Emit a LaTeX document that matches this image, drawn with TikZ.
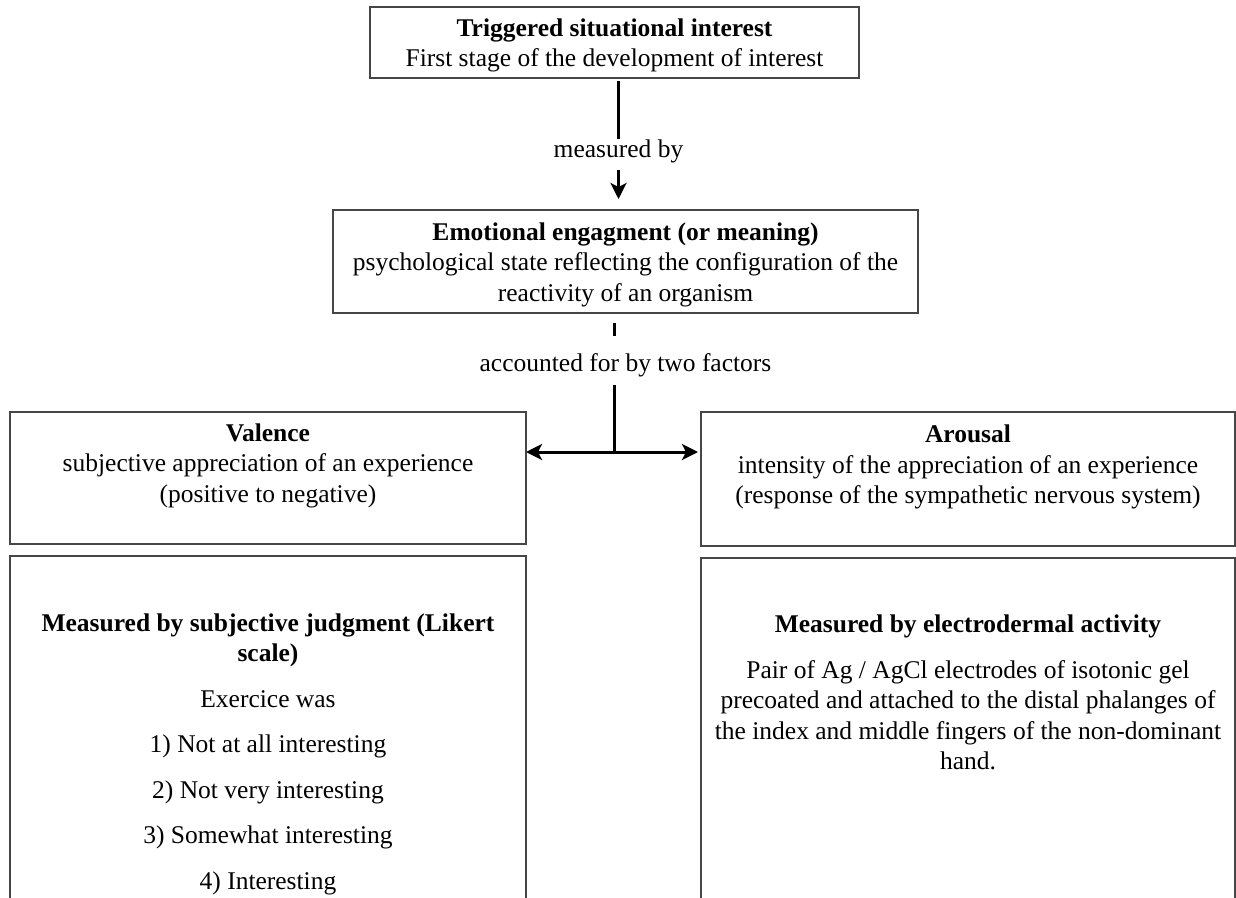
\documentclass[tikz,border=0pt]{standalone}
\usepackage{fontspec}
\setmainfont{Liberation Serif}
\usetikzlibrary{arrows.meta}
\definecolor{boxgray}{RGB}{70,70,70}
\begin{document}
\begin{tikzpicture}[x=1pt,y=-1pt,
  box/.style={draw=boxgray, line width=1.5pt, inner sep=0pt, outer sep=0pt},
  txt/.style={font=\fontsize{25.5}{30.5}\selectfont, align=center, inner sep=0pt, anchor=north},
  lbl/.style={font=\fontsize{25.5}{30.5}\selectfont, inner sep=0pt, anchor=base},
  conn/.style={line width=3pt, draw=black},
  tip/.style={-{Stealth[length=16pt,width=16pt,inset=4pt]}}]
\useasboundingbox (0,0) rectangle (1236,897);
\fill[white] (0,0) rectangle (1236,897);
\clip (0,0) rectangle (1236,897);

% boxes
\node[box, minimum width=489pt, minimum height=71pt] (top) at (614.5,42.5) {};
\node[box, minimum width=585pt, minimum height=103pt] (emo) at (625.5,261.5) {};
\node[box, minimum width=516pt, minimum height=132pt] (val) at (268,478) {};
\node[box, minimum width=534pt, minimum height=134pt] (aro) at (968,479) {};
\node[box, minimum width=516pt, minimum height=374pt] (valm) at (268,743) {};
\node[box, minimum width=534pt, minimum height=372pt] (arom) at (968,744) {};

% texts
\node[txt] (toptxt) at (614.5,18.2) {\textbf{Triggered situational interest}\\First stage of the development of interest};
\node[txt] (emotxt) at (625.5,222.2) {\textbf{Emotional engagment (or meaning)}\\psychological state reflecting the configuration of the\\reactivity of an organism};
\node[txt] (valtxt) at (268,423.2) {\textbf{Valence}\\subjective appreciation of an experience\\(positive to negative)};
\node[txt] (arotxt) at (968,425) {\textbf{Arousal}\\intensity of the appreciation of an experience\\(response of the sympathetic nervous system)};
\node[txt] (valmtxt) at (268,613.2) {\textbf{Measured by subjective judgment (Likert}\\\textbf{scale)}\\[15pt]Exercice was\\[15pt]1) Not at all interesting\\[15pt]2) Not very interesting\\[15pt]3) Somewhat interesting\\[15pt]4) Interesting};
\node[txt] (aromtxt) at (968,614.2) {\textbf{Measured by electrodermal activity}\\[15.5pt]Pair of Ag / AgCl electrodes of isotonic gel\\precoated and attached to the distal phalanges of\\the index and middle fingers of the non-dominant\\hand.};

% labels
\node[lbl] (m1) at (618.5,157) {measured by};
\node[lbl] (lab2) at (625.5,371) {accounted for by two factors};
\coordinate (j) at (614.5,452);

% connectors
\draw[conn, shorten <=3pt] (top.south -| m1.north) -- (m1.north);
\draw[conn, tip, shorten <=7.5pt, shorten >=11pt] (m1.south) -- (m1.south |- emo.north);
\draw[conn, shorten <=10pt, shorten >=16.5pt] (emo.south -| j) -- (lab2.north -| j);
\draw[conn, shorten <=8.5pt] (lab2.south -| j) -- (j);
\draw[conn, tip] (j) -- (j -| val.east);
\draw[conn, tip, shorten >=3pt] (j) -- (j -| aro.west);
\end{tikzpicture}
\end{document}
